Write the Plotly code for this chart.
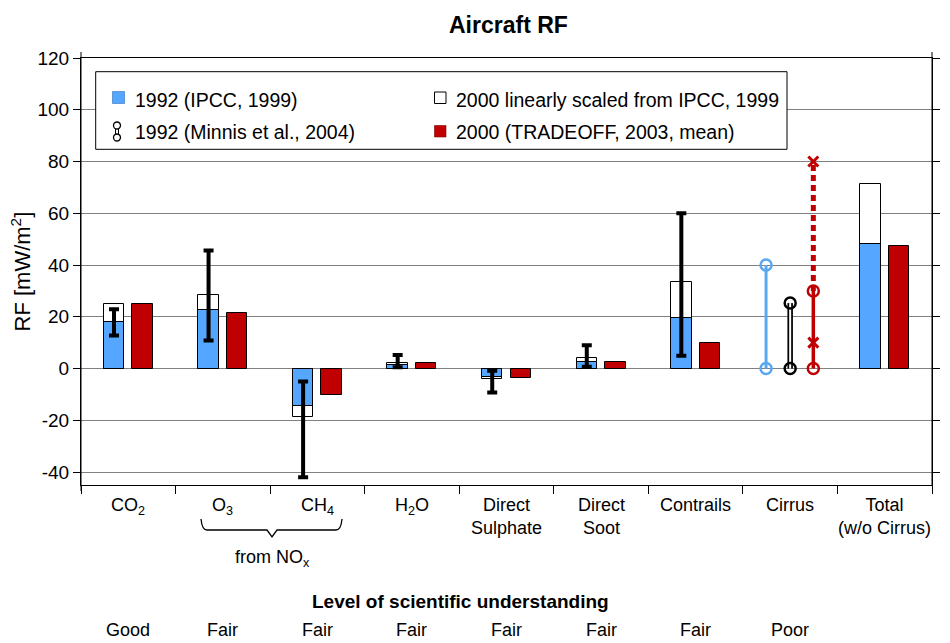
import plotly.graph_objects as go

# ---------------- data ----------------
categories = ["CO<sub>2</sub>", "O<sub>3</sub>", "CH<sub>4</sub>", "H<sub>2</sub>O",
              "Direct<br>Sulphate", "Direct<br>Soot", "Contrails", "Cirrus",
              "Total<br>(w/o Cirrus)"]
ipcc_1992 = [17.8, 22.8, -14.3, 1.5, -3.2, 2.6, 19.7, None, 48.3]
scaled_2000 = [24.8, 28.6, -18.6, 2.0, -4.2, 3.9, 33.5, None, 71.2]
tradeoff_2000 = [25.1, 21.6, -10.4, 2.0, -3.8, 2.4, 9.8, None, 47.5]
err_low = [12.8, 10.8, -42.0, 0.5, -9.3, 0.7, 4.9, None, None]
err_high = [22.9, 45.6, -5.0, 5.2, -0.9, 9.0, 60.0, None, None]
understanding = ["Good", "Fair", "Fair", "Fair", "Fair", "Fair", "Fair", "Poor", ""]

cirrus_ipcc = [0, 40]          # 1992 IPCC range
cirrus_minnis = [0, 25.3]      # Minnis et al. 2004
cirrus_trade_solid = [0, 30]   # TRADEOFF lower part
cirrus_trade_dotted = [30, 80] # TRADEOFF upper part
cirrus_trade_x = [10, 80]      # x markers

y_ticks = [-40, -20, 0, 20, 40, 60, 80, 100, 120]

BLUE = "#55A6FF"
RED = "#C00000"
CIRRUS_BLUE = "#5AA7F2"
FONT = "Liberation Sans, Arial, sans-serif"

# ---------------- layout geometry ----------------
# the page body adds an 8px offset; figure is sized to fill the rest of the window
OFF = 8
W, H = 950 - OFF, 643 - OFF
L, R, T, B = 81 - OFF, 18, 58 - OFF, 158
PW, PH = W - L - R, H - T - B


def px(x):
    """page x pixel -> paper coord"""
    return (x - OFF - L) / PW


def py(y):
    """page y pixel -> paper coord"""
    return (H - B - (y - OFF)) / PH


n = len(categories)
idx = list(range(n))
off = 0.151
bw = 0.217

fig = go.Figure()

# white 2000 scaled bars (behind)
fig.add_trace(go.Bar(x=[i - off for i in idx], y=scaled_2000, width=bw,
                     marker=dict(color="white", line=dict(color="black", width=1)),
                     showlegend=False))
# blue 1992 IPCC
fig.add_trace(go.Bar(x=[i - off for i in idx], y=ipcc_1992, width=bw,
                     marker=dict(color=BLUE, line=dict(color="black", width=1)),
                     showlegend=False))
# red 2000 TRADEOFF
fig.add_trace(go.Bar(x=[i + off for i in idx], y=tradeoff_2000, width=bw,
                     marker=dict(color=RED, line=dict(color="black", width=1)),
                     showlegend=False))

# error bars
ex, ey, eplus, eminus = [], [], [], []
for i in idx:
    if err_low[i] is None:
        continue
    ex.append(i - off)
    ey.append(ipcc_1992[i])
    eplus.append(err_high[i] - ipcc_1992[i])
    eminus.append(ipcc_1992[i] - err_low[i])
fig.add_trace(go.Scatter(x=ex, y=ey, mode="markers",
                         marker=dict(size=1, color="rgba(0,0,0,0)"),
                         error_y=dict(type="data", symmetric=False, array=eplus,
                                      arrayminus=eminus, color="black",
                                      thickness=4, width=5),
                         showlegend=False, hoverinfo="skip"))

ci = categories.index("Cirrus")
# cirrus blue (IPCC 1992)
fig.add_trace(go.Scatter(x=[ci - 0.255] * 2, y=cirrus_ipcc, mode="lines+markers",
                         line=dict(color=CIRRUS_BLUE, width=3),
                         marker=dict(symbol="circle-open", size=11, color=CIRRUS_BLUE,
                                     line=dict(color=CIRRUS_BLUE, width=2.5)),
                         showlegend=False))
# cirrus Minnis (double line)
fig.add_trace(go.Scatter(x=[ci] * 2, y=cirrus_minnis, mode="lines",
                         line=dict(color="black", width=5.5), showlegend=False))
fig.add_trace(go.Scatter(x=[ci] * 2, y=cirrus_minnis, mode="lines",
                         line=dict(color="white", width=2), showlegend=False))
fig.add_trace(go.Scatter(x=[ci] * 2, y=cirrus_minnis, mode="markers",
                         marker=dict(symbol="circle-open", size=11, color="black",
                                     line=dict(color="black", width=2.5)),
                         showlegend=False))
# cirrus TRADEOFF
fig.add_trace(go.Scatter(x=[ci + 0.245] * 2, y=cirrus_trade_dotted, mode="lines",
                         line=dict(color=RED, width=5, dash="6px,4px"),
                         showlegend=False))
fig.add_trace(go.Scatter(x=[ci + 0.245] * 2, y=cirrus_trade_solid, mode="lines+markers",
                         line=dict(color=RED, width=3.5),
                         marker=dict(symbol="circle-open", size=11, color=RED,
                                     line=dict(color=RED, width=2.5)),
                         showlegend=False))
fig.add_trace(go.Scatter(x=[ci + 0.245] * 2, y=cirrus_trade_x, mode="markers",
                         marker=dict(symbol="x-thin", size=10, color=RED,
                                     line=dict(color=RED, width=3)),
                         showlegend=False))

# ---------------- axes ----------------
fig.update_xaxes(range=[-0.5, n - 0.5], tickvals=[i - 0.5 for i in range(n + 1)],
                 showticklabels=False, ticks="outside", ticklen=8,
                 tickcolor="black", showgrid=False, showline=True,
                 linecolor="black", linewidth=1, mirror=True, zeroline=False,
                 fixedrange=True, automargin=False)
fig.update_yaxes(range=[-45, 120], tickvals=y_ticks,
                 ticktext=[str(v) for v in y_ticks], ticks="outside", ticklen=7,
                 tickcolor="black", showgrid=True, gridcolor="#808080",
                 gridwidth=1, showline=True, linecolor="black", linewidth=1,
                 mirror="ticks", zeroline=False, automargin=False,
                 tickfont=dict(size=19, color="black", family=FONT))

shapes = []
ann = []

# axis extensions
shapes.append(dict(type="line", xref="paper", yref="paper", x0=0, x1=0,
                   y0=py(491), y1=py(52), line=dict(color="black", width=1)))
shapes.append(dict(type="line", xref="paper", yref="paper", x0=1, x1=1,
                   y0=py(485), y1=py(52), line=dict(color="black", width=1)))

# legend box
shapes.append(dict(type="rect", xref="paper", yref="paper", layer="above",
                   x0=px(95.7), x1=px(787), y0=py(149.3), y1=py(71.7),
                   fillcolor="white", line=dict(color="black", width=1)))
# legend symbols
shapes.append(dict(type="rect", xref="paper", yref="paper", layer="above",
                   x0=px(112.5), x1=px(124.5), y0=py(103.5), y1=py(91.5),
                   fillcolor=BLUE, line=dict(color="#2f6fb8", width=0.6)))
shapes.append(dict(type="rect", xref="paper", yref="paper", layer="above",
                   x0=px(434.5), x1=px(446), y0=py(103.5), y1=py(92),
                   fillcolor="white", line=dict(color="black", width=1)))
shapes.append(dict(type="rect", xref="paper", yref="paper", layer="above",
                   x0=px(434.5), x1=px(446), y0=py(137), y1=py(125.5),
                   fillcolor=RED, line=dict(color="#800000", width=0.6)))
shapes.append(dict(type="rect", xref="paper", yref="paper", layer="above",
                   x0=px(115.5), x1=px(118.5), y0=py(135), y1=py(128),
                   fillcolor="white", line=dict(color="black", width=1)))
for cy in (125.5, 137.5):
    shapes.append(dict(type="circle", xref="paper", yref="paper", layer="above",
                       x0=px(113.5), x1=px(120.5), y0=py(cy + 3.5), y1=py(cy - 3.5),
                       fillcolor="white", line=dict(color="black", width=1.3)))

legend_items = [("1992 (IPCC, 1999)", 133, 100),
                ("1992 (Minnis et al., 2004)", 133, 132),
                ("2000 linearly scaled from IPCC, 1999", 454, 100),
                ("2000 (TRADEOFF, 2003, mean)", 454, 132)]
for txt, x, y in legend_items:
    ann.append(dict(text=txt, xref="paper", yref="paper", x=px(x), y=py(y),
                    xanchor="left", yanchor="middle", showarrow=False,
                    font=dict(size=19.5, color="black", family=FONT)))

# category labels
for i, lab in enumerate(categories):
    ann.append(dict(text=lab, xref="x", yref="paper", x=i, y=py(493),
                    xanchor="center", yanchor="top", showarrow=False,
                    font=dict(size=18, color="black", family=FONT)))
    if understanding[i]:
        ann.append(dict(text=understanding[i], xref="x", yref="paper", x=i,
                        y=py(630), xanchor="center", yanchor="middle",
                        showarrow=False,
                        font=dict(size=18, color="black", family=FONT)))

# brace for NOx
bx0, bx1, bmid = 201, 342, 272
path = ("M {a},{b} Q {c},{d} {e},{f} L {g},{f} L {h},{i} L {j},{f} L {k},{f} Q {l},{d} {m},{b}").format(
    a=px(bx0), b=py(519), c=px(bx0 + 1), d=py(530), e=px(bx0 + 6), f=py(530),
    g=px(bmid - 5), h=px(bmid), i=py(537), j=px(bmid + 5), k=px(bx1 - 6),
    l=px(bx1 - 1), m=px(bx1))
shapes.append(dict(type="path", xref="paper", yref="paper", path=path,
                   line=dict(color="black", width=1.3)))
ann.append(dict(text="from NO<sub>x</sub>", xref="paper", yref="paper",
                x=px(bmid), y=py(558), xanchor="center", yanchor="middle",
                showarrow=False, font=dict(size=18, color="black", family=FONT)))

ann.append(dict(text="<b>Level of scientific understanding</b>", xref="paper",
                yref="paper", x=px(460), y=py(601), xanchor="center",
                yanchor="middle", showarrow=False,
                font=dict(size=19, color="black", family=FONT)))

# y title
ann.append(dict(text="RF [mW/m<sup>2</sup>]", xref="paper", yref="paper",
                x=px(20), y=0.5, xanchor="center", yanchor="middle",
                textangle=-90, showarrow=False,
                font=dict(size=22, color="black", family=FONT)))

# title
ann.append(dict(text="<b>Aircraft RF</b>", xref="paper", yref="paper",
                x=px(508), y=py(25), xanchor="center", yanchor="middle",
                showarrow=False, font=dict(size=23, color="black", family=FONT)))

fig.update_layout(width=W, height=H, margin=dict(l=L, r=R, t=T, b=B),
                  plot_bgcolor="white", paper_bgcolor="white",
                  barmode="overlay", bargap=0, showlegend=False,
                  font=dict(family=FONT, color="black"),
                  shapes=shapes, annotations=ann)

fig.write_html("out.html")
